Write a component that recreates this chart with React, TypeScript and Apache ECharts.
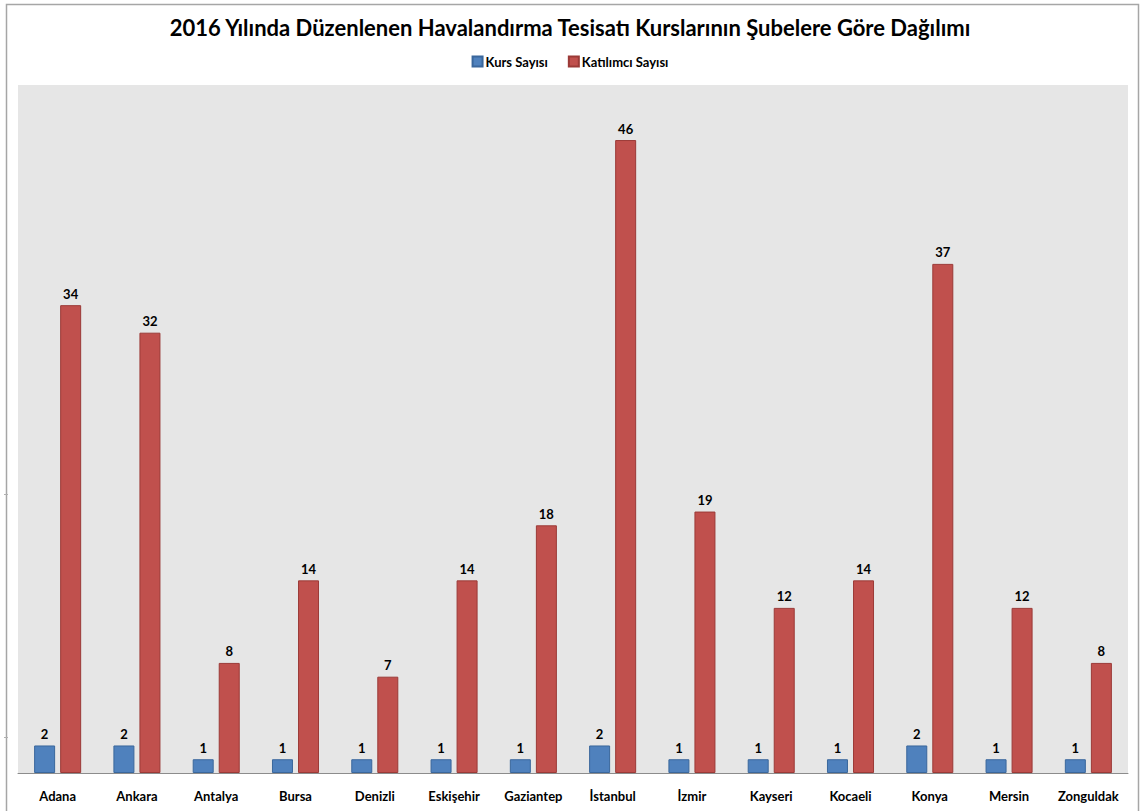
import React, { useEffect, useRef } from "react";
import * as echarts from "echarts";

const categories = ["Adana", "Ankara", "Antalya", "Bursa", "Denizli", "Eskişehir", "Gaziantep", "İstanbul", "İzmir", "Kayseri", "Kocaeli", "Konya", "Mersin", "Zonguldak"];
const kursSayisi = [2, 2, 1, 1, 1, 1, 1, 2, 1, 1, 1, 2, 1, 1];
const katilimciSayisi = [34, 32, 8, 14, 7, 14, 18, 46, 19, 12, 14, 37, 12, 8];
const seriesNames = ["Kurs Sayısı", "Katılımcı Sayısı"];
const titleText = "2016 Yılında Düzenlenen Havalandırma Tesisatı Kurslarının Şubelere Göre Dağılımı";

const FONT = "Lato, 'Open Sans', sans-serif";

export default function App() {
  const ref = useRef<HTMLDivElement>(null);
  useEffect(() => {
    document.body.style.margin = "0";
    if (!ref.current) return;
    const chart = echarts.init(ref.current, null, { renderer: "svg" });
    const labelStyle = {
      show: true,
      position: "top" as const,
      distance: 5,
      fontFamily: FONT,
      fontWeight: "bold" as const,
      fontSize: 13,
      color: "#000",
    };
    chart.setOption({
      animation: false,
      backgroundColor: "#fff",
      textStyle: { fontFamily: FONT },
      title: {
        text: titleText,
        left: "center",
        top: 11,
        textStyle: { fontFamily: FONT, fontWeight: "bold", fontSize: 22, color: "#000" },
      },
      legend: {
        top: 50,
        left: "center",
        itemWidth: 10,
        itemHeight: 10,
        itemGap: 20,
        icon: "rect",
        textStyle: { fontFamily: FONT, fontWeight: "bold", fontSize: 13, color: "#000", padding: [0, 0, 0, -2] },
        data: seriesNames,
      },
      grid: {
        left: 18,
        right: 12,
        top: 85,
        bottom: 38,
        show: true,
        backgroundColor: "#e6e6e6",
        borderWidth: 0,
      },
      xAxis: {
        type: "category",
        data: categories,
        axisLine: { lineStyle: { color: "#8c8c8c", width: 1 } },
        axisTick: { show: false },
        axisLabel: {
          margin: 16,
          interval: 0,
          fontFamily: FONT,
          fontWeight: "bold",
          fontSize: 13,
          color: "#000",
        },
      },
      yAxis: {
        type: "value",
        min: 0,
        max: 50,
        interval: 10,
        axisLine: { show: false },
        axisTick: { show: false },
        axisLabel: { show: false },
        splitLine: { show: false },
      },
      graphic: [
        {
          type: "rect",
          shape: { x: 6.5, y: 4.5, width: 1132, height: 830 },
          style: { fill: "none", stroke: "#a6a6a6", lineWidth: 1.5 },
          silent: true,
        },
        { type: "line", shape: { x1: 4, y1: 494.5, x2: 8, y2: 494.5 }, style: { stroke: "#b0b0b0", lineWidth: 1 } },
        { type: "line", shape: { x1: 4, y1: 737.5, x2: 8, y2: 737.5 }, style: { stroke: "#b0b0b0", lineWidth: 1 } },
      ],
      series: [
        {
          name: seriesNames[0],
          type: "bar",
          data: kursSayisi,
          barWidth: 21,
          barGap: "24%",
          itemStyle: { color: "#4f81bd", borderColor: "#3a679c", borderWidth: 1 },
          label: labelStyle,
        },
        {
          name: seriesNames[1],
          type: "bar",
          data: katilimciSayisi,
          barWidth: 21,
          itemStyle: { color: "#c0504d", borderColor: "#9b3a37", borderWidth: 1 },
          label: labelStyle,
        },
      ],
    });
    return () => chart.dispose();
  }, []);
  return <div ref={ref} style={{ width: 1140, height: 811 }} />;
}
